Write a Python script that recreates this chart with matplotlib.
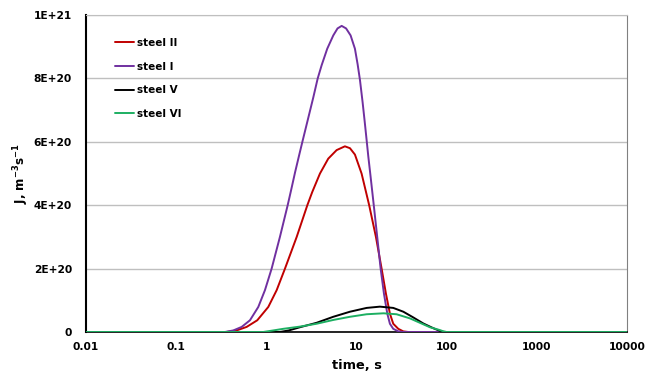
import matplotlib.pyplot as plt
from matplotlib.ticker import FixedLocator, FixedFormatter

# time, s  /  J in units of 1E+20 m^-3 s^-1
t_steel1 = [0.01, 0.348, 0.431, 0.533, 0.659, 0.815, 0.966, 1.146, 1.416, 1.726, 1.875,
            2.089, 2.323, 2.512, 2.917, 3.319, 3.715, 4.111, 4.742, 5.534, 6.166,
            6.855, 7.674, 8.610, 9.616, 10.30, 10.94, 11.70, 12.33, 12.97, 13.52,
            14.35, 15.63, 17.02, 18.54, 20.18, 21.98, 23.50, 25.59, 29.11, 33.04, 10000]
j_steel1 = [0, 0, 0.05, 0.16, 0.37, 0.79, 1.32, 2.0, 3.0, 4.0, 4.45,
            5.05, 5.6, 6.0, 6.75, 7.4, 8.0, 8.42, 8.94, 9.36, 9.58,
            9.66, 9.58, 9.36, 8.94, 8.45, 7.95, 7.25, 6.65, 6.05, 5.55,
            4.9, 3.95, 2.98, 2.0, 1.21, 0.58, 0.26, 0.10, 0.02, 0, 0]

t_steel2 = [0.01, 0.363, 0.469, 0.605, 0.794, 1.052, 1.303, 1.611, 2.173, 2.851, 3.236,
            3.936, 4.864, 6.026, 7.447, 8.472, 9.616, 11.40, 13.84, 16.44, 19.01,
            21.23, 23.50, 25.59, 29.11, 33.04, 37.58, 10000]
j_steel2 = [0, 0, 0.05, 0.16, 0.37, 0.79, 1.32, 2.0, 3.0, 4.0, 4.42,
            5.0, 5.47, 5.74, 5.86, 5.80, 5.60, 5.0, 4.0, 3.0, 2.0,
            1.21, 0.58, 0.26, 0.10, 0.02, 0, 0]

t_steel5 = [0.01, 1.416, 1.78, 2.36, 3.61, 5.53, 8.47, 12.97, 18.20, 25.59, 33.11,
            42.66, 55.08, 71.12, 88.10, 100, 10000]
j_steel5 = [0, 0, 0.05, 0.15, 0.29, 0.48, 0.64, 0.76, 0.80, 0.76, 0.64,
            0.46, 0.27, 0.12, 0.01, 0, 0]

t_steel6 = [0.01, 0.925, 1.20, 1.542, 2.36, 3.61, 5.53, 8.47, 12.97, 19.95, 27.86,
            39.17, 50.58, 65.31, 84.33, 93.3, 100, 10000]
j_steel6 = [0, 0, 0.05, 0.10, 0.17, 0.26, 0.38, 0.48, 0.56, 0.59, 0.56,
            0.43, 0.29, 0.15, 0.06, 0.015, 0, 0]

y_ticks = [0, 2, 4, 6, 8, 10]
y_labels = ['0', '2E+20', '4E+20', '6E+20', '8E+20', '1E+21']
x_ticks = [0.01, 0.1, 1, 10, 100, 1000, 10000]
x_labels = ['0.01', '0.1', '1', '10', '100', '1000', '10000']

fig = plt.figure(figsize=(6.45, 3.78), dpi=100)
ax = fig.add_axes([0.1333, 0.1217, 0.8387, 0.8383])

kw = dict(lw=1.4, solid_joinstyle='round', solid_capstyle='round')
ax.plot(t_steel2, j_steel2, color='#C00000', label='steel II', zorder=3, **kw)
ax.plot(t_steel1, j_steel1, color='#7030A0', label='steel I', zorder=3, **kw)
ax.plot(t_steel5, j_steel5, color='black', label='steel V', zorder=4, **kw)
ax.plot(t_steel6, j_steel6, color='#1DAF62', label='steel VI', zorder=5, **kw)

ax.set_xscale('log')
ax.set_xlim(0.01, 10000)
ax.set_ylim(0, 10)
ax.xaxis.set_major_locator(FixedLocator(x_ticks))
ax.xaxis.set_major_formatter(FixedFormatter(x_labels))
ax.xaxis.set_minor_locator(FixedLocator([]))
ax.yaxis.set_major_locator(FixedLocator(y_ticks))
ax.yaxis.set_major_formatter(FixedFormatter(y_labels))
ax.tick_params(axis='both', length=0, labelsize=7.7)
ax.tick_params(axis='y', pad=10)
ax.tick_params(axis='x', pad=7)
for lab in ax.get_xticklabels() + ax.get_yticklabels():
    lab.set_fontweight('bold')

ax.grid(axis='y', color='#BFBFBF', lw=1.0, zorder=0)
ax.set_axisbelow(True)
ax.spines['left'].set_color('black')
ax.spines['left'].set_linewidth(1.5)
ax.spines['bottom'].set_color('black')
ax.spines['bottom'].set_linewidth(1.2)
ax.spines['top'].set_color('#BFBFBF')
ax.spines['right'].set_color('#808080')
ax.spines['right'].set_linewidth(0.8)

ax.set_xlabel('time, s', fontsize=9.3, fontweight='bold', labelpad=5)
ax.set_ylabel('J, m$^{\\mathbf{-3}}$s$^{\\mathbf{-1}}$', fontsize=8.6, fontweight='bold', labelpad=2)

ax.legend(loc='upper left', bbox_to_anchor=(0.036, 0.957), frameon=False,
          prop={'weight': 'bold', 'size': 7.5}, handlelength=1.8,
          handletextpad=0.3, labelspacing=1.3)

fig.savefig('out.png', dpi=100)
